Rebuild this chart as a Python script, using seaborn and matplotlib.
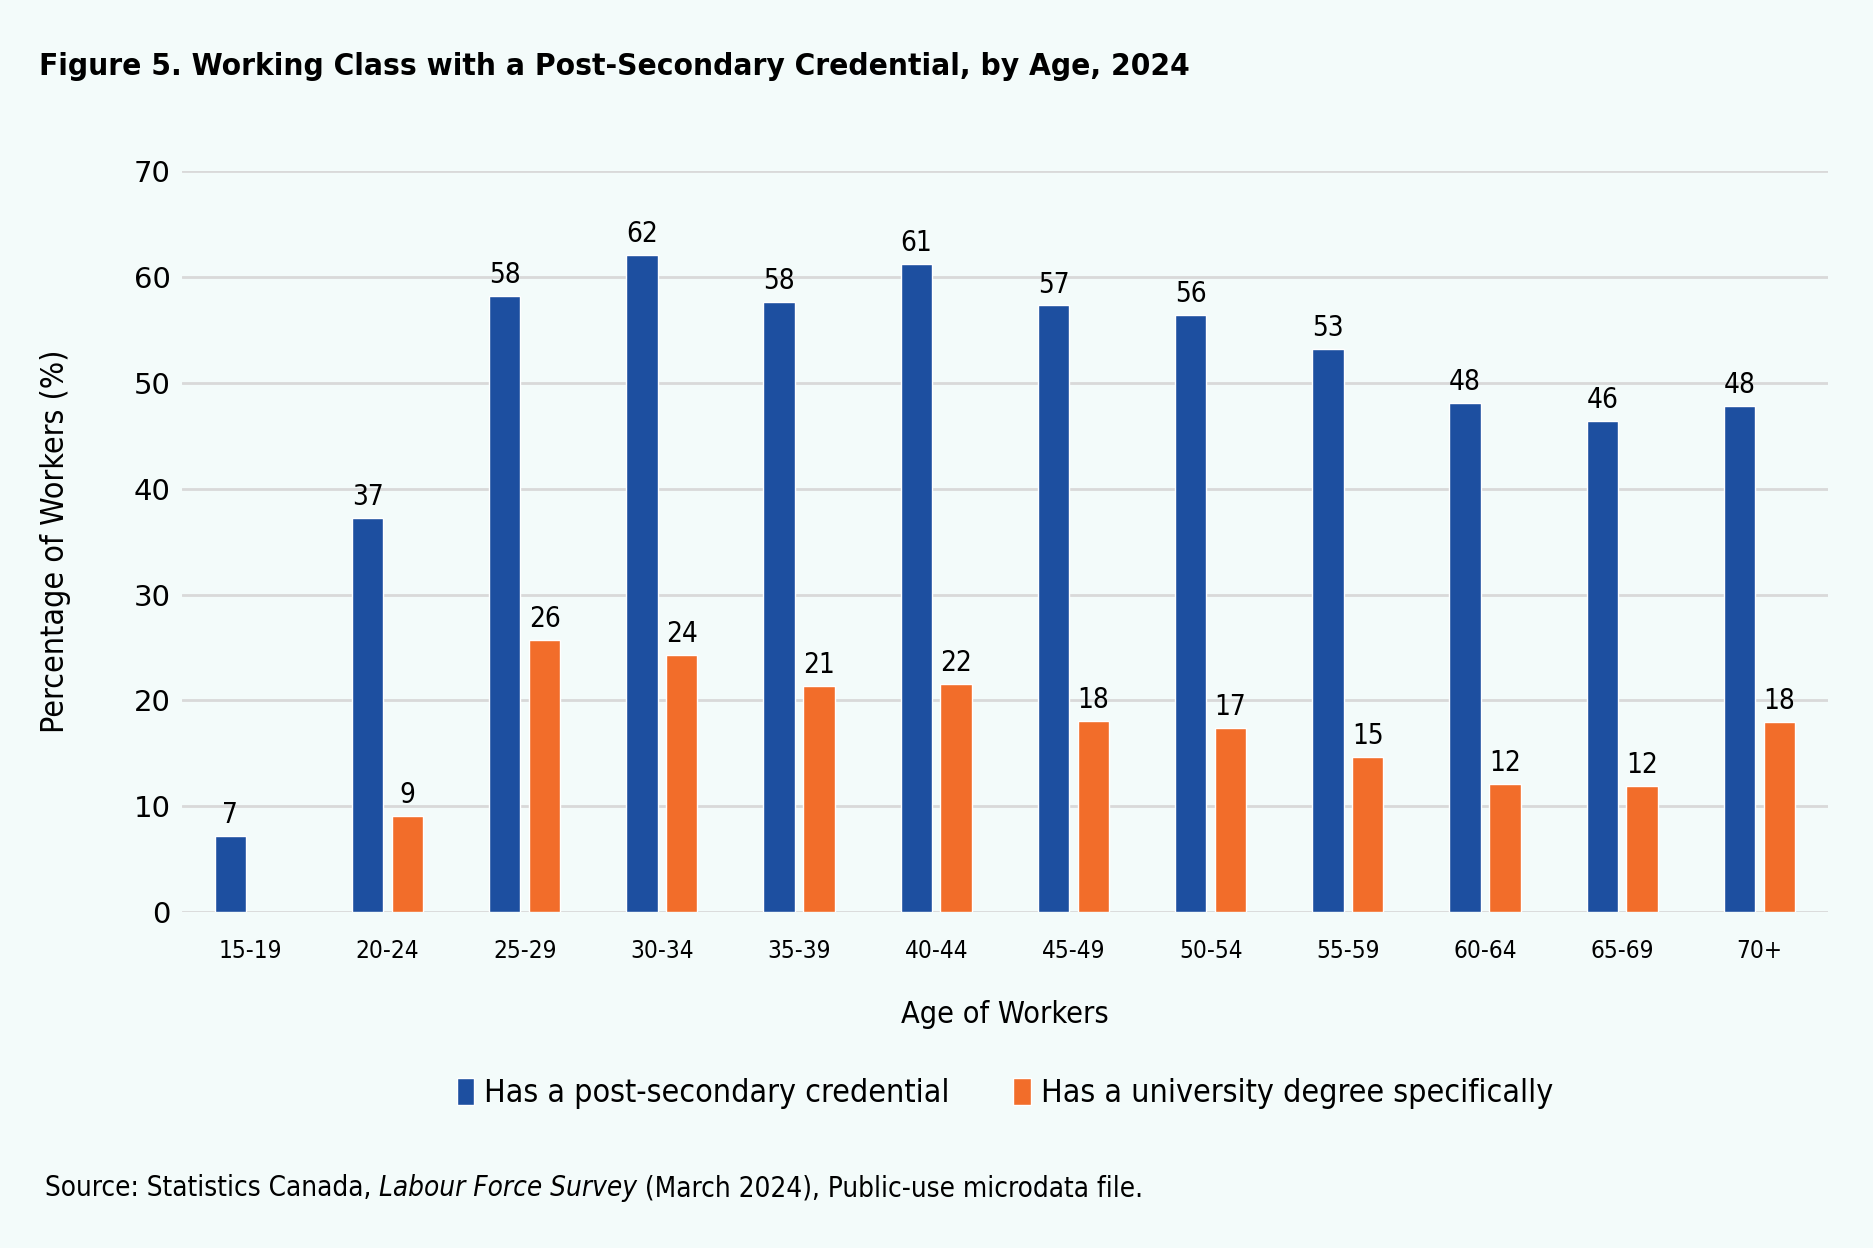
import matplotlib
matplotlib.use("Agg")
import matplotlib.pyplot as plt
import seaborn as sns
import pandas as pd
import numpy as np

ages = ['15-19', '20-24', '25-29', '30-34', '35-39', '40-44',
        '45-49', '50-54', '55-59', '60-64', '65-69', '70+']
post_secondary = [7.2, 37.2, 58.2, 62.1, 57.6, 61.2, 57.3, 56.4, 53.2, 48.1, 46.4, 47.8]
university = [np.nan, 9.1, 25.7, 24.3, 21.4, 21.6, 18.1, 17.4, 14.7, 12.1, 11.9, 18.0]
series_names = ['Has a post-secondary credential', 'Has a university degree specifically']

blue = '#1D4FA0'
orange = '#F26D2A'
bg = '#F3FBFA'

df = pd.DataFrame({'age': ages * 2,
                   'value': post_secondary + university,
                   'series': [series_names[0]] * len(ages) + [series_names[1]] * len(ages)})

sns.set_style('white')
plt.rcParams['font.family'] = ['DejaVu Sans']
plt.rcParams['font.stretch'] = 'condensed'
plt.rcParams['text.color'] = 'black'
plt.rcParams['axes.labelcolor'] = 'black'
plt.rcParams['xtick.color'] = 'black'
plt.rcParams['ytick.color'] = 'black'

fig = plt.figure(figsize=(18.73, 12.48), dpi=100, facecolor=bg)
ax = fig.add_axes([0.097, 0.269, 0.879, 0.594])
ax.set_facecolor(bg)

sns.barplot(data=df, x='age', y='value', hue='series', order=ages,
            hue_order=series_names, palette=[blue, orange],
            width=0.58, gap=0.21, saturation=1, ax=ax, legend=True)

for cont in ax.containers:
    labels = ['' if np.isnan(v) else f'{v:.0f}' for v in cont.datavalues]
    ax.bar_label(cont, labels=labels, padding=5, fontsize=20)

ax.set_ylim(0, 70)
ax.set_yticks(range(0, 71, 10))
ax.grid(axis='y', color='#D9D9D9', linewidth=2)
ax.set_axisbelow(True)
sns.despine(ax=ax, left=True, bottom=True)
ax.tick_params(axis='both', length=0)
ax.tick_params(axis='x', pad=19, labelsize=17.5)
ax.tick_params(axis='y', pad=8, labelsize=21)
for lab in ax.get_yticklabels():
    lab.set_fontstretch('normal')

ax.set_xlabel('Age of Workers', fontsize=22, labelpad=27)
ax.set_ylabel('Percentage of Workers (%)', fontsize=23)
ax.yaxis.set_label_coords(-0.067, 0.5)

leg = ax.legend(loc='upper center', bbox_to_anchor=(0.5, -0.185), ncol=2,
                frameon=False, fontsize=23, handlelength=0.55, handleheight=0.9,
                handletextpad=0.3, columnspacing=2.0)

fig.text(0.021, 0.947, 'Figure 5. Working Class with a Post-Secondary Credential, by Age, 2024',
         fontsize=22.6, fontweight='bold', va='center', ha='left')
src = fig.text(0.024, 0.048, 'Source: Statistics Canada, ', fontsize=20, va='center', ha='left')
fig.canvas.draw()
x1 = src.get_window_extent().x1 / fig.bbox.width
t2 = fig.text(x1, 0.048, 'Labour Force Survey', fontsize=20, style='italic', va='center', ha='left')
fig.canvas.draw()
x2 = t2.get_window_extent().x1 / fig.bbox.width
fig.text(x2, 0.048, ' (March 2024), Public-use microdata file.', fontsize=20, va='center', ha='left')

fig.savefig('out.png', dpi=100, facecolor=bg)
